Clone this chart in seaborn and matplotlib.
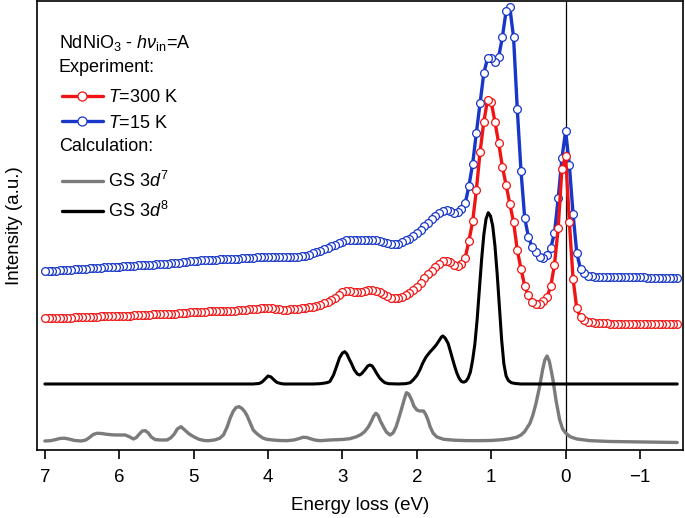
import numpy as np
import pandas as pd
import matplotlib
matplotlib.use('Agg')
import matplotlib.pyplot as plt
from matplotlib.lines import Line2D
import seaborn as sns

# ---------------- data ----------------
# experimental RIXS spectra, energy loss grid (eV)
energy_exp = [
    7.00, 6.95, 6.90, 6.85, 6.80, 6.75, 6.70, 6.65, 6.60, 6.55,
    6.50, 6.45, 6.40, 6.35, 6.30, 6.25, 6.20, 6.15, 6.10, 6.05,
    6.00, 5.95, 5.90, 5.85, 5.80, 5.75, 5.70, 5.65, 5.60, 5.55,
    5.50, 5.45, 5.40, 5.35, 5.30, 5.25, 5.20, 5.15, 5.10, 5.05,
    5.00, 4.95, 4.90, 4.85, 4.80, 4.75, 4.70, 4.65, 4.60, 4.55,
    4.50, 4.45, 4.40, 4.35, 4.30, 4.25, 4.20, 4.15, 4.10, 4.05,
    4.00, 3.95, 3.90, 3.85, 3.80, 3.75, 3.70, 3.65, 3.60, 3.55,
    3.50, 3.45, 3.40, 3.35, 3.30, 3.25, 3.20, 3.15, 3.10, 3.05,
    3.00, 2.95, 2.90, 2.85, 2.80, 2.75, 2.70, 2.65, 2.60, 2.55,
    2.50, 2.45, 2.40, 2.35, 2.30, 2.25, 2.20, 2.15, 2.10, 2.05,
    2.00, 1.95, 1.90, 1.85, 1.80, 1.75, 1.70, 1.65, 1.60, 1.55,
    1.50, 1.45, 1.40, 1.35, 1.30, 1.25, 1.20, 1.15, 1.10, 1.05,
    1.00, 0.95, 0.90, 0.85, 0.80, 0.75, 0.70, 0.65, 0.60, 0.55,
    0.50, 0.45, 0.40, 0.35, 0.30, 0.25, 0.20, 0.15, 0.10, 0.05,
    0.00, -0.05, -0.10, -0.15, -0.20, -0.25, -0.30, -0.35, -0.40, -0.45,
    -0.50, -0.55, -0.60, -0.65, -0.70, -0.75, -0.80, -0.85, -0.90, -0.95,
    -1.00, -1.05, -1.10, -1.15, -1.20, -1.25, -1.30, -1.35, -1.40, -1.45,
    -1.50]

# T = 15 K (offset spectrum)
int_15K = [
    178.5, 178.7, 179.0, 179.2, 179.5, 179.7, 180.0, 180.2, 180.5, 180.7,
    181.0, 181.2, 181.5, 181.7, 182.0, 182.2, 182.5, 182.7, 183.0, 183.2,
    183.3, 183.5, 183.8, 184.0, 184.3, 184.5, 184.7, 185.0, 185.2, 185.4,
    185.6, 185.8, 186.0, 186.3, 186.6, 187.0, 187.4, 187.8, 188.2, 188.6,
    189.0, 189.3, 189.5, 189.7, 190.0, 190.2, 190.4, 190.6, 190.8, 190.9,
    191.0, 191.2, 191.4, 191.6, 191.8, 192.0, 192.2, 192.5, 192.7, 192.9,
    193.0, 193.0, 192.8, 192.6, 192.6, 192.7, 192.9, 193.1, 193.3, 193.5,
    194.0, 195.0, 196.5, 198.0, 199.0, 200.5, 202.0, 203.5, 205.0, 206.5,
    208.0, 209.5, 210.0, 209.8, 209.5, 209.5, 209.8, 210.0, 210.0, 209.5,
    208.5, 207.5, 206.5, 206.0, 206.0, 206.3, 207.5, 209.5, 211.0, 213.5,
    216.5, 220.0, 223.5, 227.0, 230.5, 234.0, 237.0, 239.0, 239.5, 238.5,
    237.0, 238.0, 240.5, 246.5, 264.0, 286.0, 317.0, 347.0, 376.7, 391.5,
    392.0, 388.0, 393.0, 413.0, 439.0, 442.7, 412.7, 341.0, 279.0, 232.0,
    213.0, 203.0, 197.5, 193.0, 192.2, 194.5, 202.0, 217.0, 251.7, 291.7,
    319.0, 285.0, 236.0, 197.0, 181.0, 176.5, 174.0, 173.5, 173.0, 173.0,
    173.0, 172.9, 172.8, 172.8, 172.7, 172.7, 172.6, 172.6, 172.6, 172.5,
    172.5, 172.5, 172.4, 172.4, 172.4, 172.3, 172.3, 172.3, 172.3, 172.3,
    172.3]

# T = 300 K (offset spectrum)
int_300K = [
    131.5, 131.6, 131.7, 131.8, 131.9, 132.0, 132.2, 132.4, 132.6, 132.8,
    133.0, 133.1, 133.2, 133.3, 133.4, 133.5, 133.6, 133.7, 133.8, 133.9,
    134.0, 134.1, 134.2, 134.4, 134.6, 134.8, 135.0, 135.2, 135.4, 135.5,
    135.6, 135.7, 135.8, 135.9, 136.0, 136.3, 136.6, 136.9, 137.2, 137.5,
    137.8, 138.1, 138.3, 138.4, 138.5, 138.6, 138.7, 138.8, 138.9, 139.0,
    139.2, 139.4, 139.7, 140.0, 140.3, 140.6, 140.9, 141.2, 141.6, 141.8,
    141.8, 141.5, 141.0, 140.5, 140.2, 140.3, 140.6, 141.0, 141.3, 141.6,
    142.0, 142.5, 143.0, 144.0, 144.8, 146.5, 148.0, 150.0, 152.0, 155.0,
    157.5, 158.5, 159.0, 158.0, 157.5, 158.0, 159.0, 160.0, 160.0, 159.0,
    157.5, 155.5, 153.5, 152.0, 151.5, 152.0, 153.0, 155.0, 157.0, 160.0,
    163.0, 167.0, 171.5, 175.5, 179.0, 182.5, 186.0, 188.5, 189.3, 188.0,
    184.5, 183.5, 186.0, 192.3, 209.0, 228.5, 260.0, 298.0, 328.0, 350.0,
    348.0, 328.0, 307.0, 283.0, 265.0, 246.0, 228.0, 200.0, 181.0, 164.0,
    154.5, 147.5, 145.5, 145.5, 148.5, 153.0, 164.0, 185.0, 222.0, 280.7,
    294.0, 228.0, 171.0, 141.5, 132.5, 129.7, 128.3, 127.5, 127.0, 126.8,
    126.6, 126.5, 126.4, 126.3, 126.2, 126.1, 126.0, 126.0, 125.9, 125.9,
    125.8, 125.8, 125.7, 125.7, 125.6, 125.6, 125.5, 125.5, 125.5, 125.5,
    125.5]

# calculation, ground state 3d8
energy_d8 = [
    7.00, 4.20, 4.12, 4.08, 4.04, 4.00, 3.96, 3.92, 3.88, 3.82,
    3.78, 3.40, 3.30, 3.25, 3.21, 3.17, 3.12, 3.08, 3.04, 3.00,
    2.97, 2.94, 2.91, 2.88, 2.84, 2.80, 2.77, 2.74, 2.70, 2.66,
    2.63, 2.60, 2.57, 2.54, 2.50, 2.46, 2.43, 2.38, 2.25, 2.15,
    2.09, 2.05, 2.00, 1.96, 1.92, 1.88, 1.85, 1.82, 1.78, 1.74,
    1.70, 1.67, 1.65, 1.62, 1.58, 1.55, 1.52, 1.49, 1.46, 1.43,
    1.40, 1.37, 1.34, 1.31, 1.28, 1.25, 1.22, 1.19, 1.16, 1.13,
    1.10, 1.07, 1.04, 1.01, 0.98, 0.95, 0.92, 0.89, 0.86, 0.83,
    0.80, 0.77, 0.73, 0.68, 0.60, -1.50]
int_d8 = [
    66, 66, 66.5, 68, 71, 74, 73, 70, 67.5, 66.3,
    66, 66, 66.3, 66.8, 67.3, 68.3, 75, 83.3, 92, 97,
    98.3, 96, 91, 86.7, 80, 76, 75, 76.5, 80, 84,
    85, 84, 80.5, 76.7, 72, 69, 67.3, 66.3, 66, 66.3,
    67.3, 70, 74.5, 80, 87, 92.5, 95.5, 98.3, 101.5, 105,
    109.5, 113, 114, 112, 106.7, 99, 91, 83.3, 76.5, 71.5,
    68.5, 67.8, 68.8, 72, 78, 90, 106, 130, 160, 190,
    215, 231, 237.3, 234, 224, 204, 176, 143, 110, 86,
    74, 69.5, 67.3, 66.5, 66, 66]

# calculation, ground state 3d7
energy_d7 = [
    7.00, 6.92, 6.85, 6.80, 6.74, 6.68, 6.60, 6.51, 6.45, 6.40,
    6.35, 6.30, 6.24, 6.17, 6.10, 6.05, 5.99, 5.92, 5.87, 5.81,
    5.77, 5.73, 5.69, 5.65, 5.61, 5.57, 5.52, 5.46, 5.36, 5.31,
    5.26, 5.22, 5.17, 5.12, 5.06, 5.00, 4.93, 4.86, 4.80, 4.72,
    4.65, 4.60, 4.55, 4.51, 4.47, 4.43, 4.39, 4.35, 4.31, 4.28,
    4.24, 4.20, 4.16, 4.12, 4.07, 4.02, 3.94, 3.85, 3.75, 3.65,
    3.58, 3.53, 3.48, 3.42, 3.36, 3.30, 3.17, 3.10, 3.00, 2.90,
    2.81, 2.75, 2.70, 2.65, 2.61, 2.58, 2.55, 2.52, 2.49, 2.45,
    2.41, 2.36, 2.32, 2.28, 2.25, 2.21, 2.17, 2.14, 2.11, 2.07,
    2.04, 2.00, 1.96, 1.91, 1.88, 1.85, 1.82, 1.78, 1.73, 1.64,
    1.50, 1.35, 1.20, 1.00, 0.85, 0.75, 0.66, 0.60, 0.55, 0.48,
    0.44, 0.40, 0.35, 0.31, 0.28, 0.25, 0.22, 0.19, 0.17, 0.13,
    0.10, 0.08, 0.04, 0.00, -0.06, -0.15, -0.33, -0.60, -1.00, -1.50]
int_d7 = [
    9, 9.3, 10.5, 11.5, 11.8, 11, 9.5, 9, 10, 12.5,
    15.5, 16.7, 16.5, 15.7, 15.2, 15, 15, 15, 13.5, 11,
    12.5, 16, 19, 19.3, 17, 13, 10.5, 10, 10, 12,
    16, 21, 23.3, 20, 16, 13.3, 10.7, 9.5, 9.3, 10,
    11.7, 15, 23, 31.7, 38.5, 42.5, 43.3, 41.5, 38, 34,
    27, 20, 17, 14.5, 12, 10.7, 10, 9.5, 9.3, 10,
    11.5, 12.7, 12.5, 11, 9.8, 9.3, 10, 10.2, 10.5, 11.3,
    13.3, 15.5, 18.5, 23.3, 29, 34, 36.7, 34.5, 29, 23.3,
    18, 15, 17, 23, 30, 40, 50.5, 57.3, 56, 50,
    44, 40, 39, 39, 35.5, 30, 23, 16.7, 13, 10.7,
    9.8, 9.4, 9.3, 9.5, 10.3, 11.3, 12.7, 15, 18.5, 26.7,
    35, 46, 63.3, 80, 90, 94, 89, 78, 70, 50,
    38, 30, 21, 17, 13.3, 11, 9.3, 8.5, 8, 7.5]

xticks = [7, 6, 5, 4, 3, 2, 1, 0, -1]

RED = '#f01414'
BLUE = '#1836c8'
GRAY = '#7b7b7b'

df_exp = pd.DataFrame({'energy': energy_exp, 'T15': int_15K, 'T300': int_300K})
df_d8 = pd.DataFrame({'energy': energy_d8, 'I': int_d8})
df_d7 = pd.DataFrame({'energy': energy_d7, 'I': int_d7})

# ---------------- style ----------------
sns.set_theme(style='ticks')
plt.rcParams['font.family'] = ['Liberation Sans', 'DejaVu Sans']
plt.rcParams['mathtext.fontset'] = 'custom'
plt.rcParams['mathtext.rm'] = 'Liberation Sans'
plt.rcParams['mathtext.it'] = 'Liberation Sans:italic'
plt.rcParams['mathtext.bf'] = 'Liberation Sans:bold'
plt.rcParams['font.size'] = 13
plt.rcParams['text.color'] = 'black'
plt.rcParams['axes.labelcolor'] = 'black'
plt.rcParams['xtick.color'] = 'black'
plt.rcParams['xtick.labelcolor'] = 'black'

fig = plt.figure(figsize=(6.85, 5.18), dpi=100)
ax = fig.add_axes([0.054, 0.1313, 0.943, 0.8668])

ax.axvline(0, color='black', lw=0.9, zorder=1)

# calculations
sns.lineplot(data=df_d7, x='energy', y='I', ax=ax, color=GRAY, lw=2.4, zorder=2)
sns.lineplot(data=df_d8, x='energy', y='I', ax=ax, color='black', lw=2.2, zorder=3)

# experiment
exp_kw = dict(marker='o', markersize=5.6, markerfacecolor='white',
              markeredgewidth=0.9, lw=2.4)
sns.lineplot(data=df_exp, x='energy', y='T15', ax=ax, color=BLUE,
             markeredgecolor=BLUE, zorder=4, **exp_kw)
sns.lineplot(data=df_exp, x='energy', y='T300', ax=ax, color=RED,
             markeredgecolor=RED, zorder=5, **exp_kw)

ax.set_xlim(7.106, -1.577)
ax.set_ylim(0, 449)
ax.set_xticks(xticks)
ax.set_yticks([])
ax.tick_params(axis='x', direction='out', length=6.5, width=1.2, pad=7,
               labelsize=13.5, color='black', labelcolor='black')
for sp in ax.spines.values():
    sp.set_visible(True)
    sp.set_color('black')
    sp.set_linewidth(1.2)

ax.set_xlabel('Energy loss (eV)', fontsize=13.5, labelpad=8, color='black')
ax.set_ylabel('Intensity (a.u.)', fontsize=13.5, labelpad=10, color='black')

# ---------------- legend ----------------
ax.text(0.034, 0.906, r'NdNiO$_3$ - $h\nu_{\rm in}$=A', transform=ax.transAxes,
        fontsize=13, va='center', ha='left', color='black')
ax.text(0.034, 0.851, 'Experiment:', transform=ax.transAxes,
        fontsize=13, va='center', ha='left', color='black')
ax.text(0.034, 0.675, 'Calculation:', transform=ax.transAxes,
        fontsize=13, va='center', ha='left', color='black')

h_exp = [Line2D([], [], color=RED, lw=2.4, marker='o', markersize=6.5,
                markerfacecolor='white', markeredgecolor=RED, markeredgewidth=0.9),
         Line2D([], [], color=BLUE, lw=2.4, marker='o', markersize=6.5,
                markerfacecolor='white', markeredgecolor=BLUE, markeredgewidth=0.9)]
leg1 = ax.legend(h_exp, [r'$T$=300 K', r'$T$=15 K'], loc='center left',
                 bbox_to_anchor=(0.0387, 0.756), frameon=False, fontsize=13,
                 borderpad=0, borderaxespad=0, handlelength=2.25,
                 handletextpad=0.3, labelspacing=0.47, numpoints=1,
                 labelcolor='black')
ax.add_artist(leg1)

h_calc = [Line2D([], [], color=GRAY, lw=2.4), Line2D([], [], color='black', lw=2.4)]
ax.legend(h_calc, [r'GS 3$d^7$', r'GS 3$d^8$'], loc='center left',
          bbox_to_anchor=(0.0387, 0.566), frameon=False, fontsize=13,
          borderpad=0, borderaxespad=0, handlelength=2.25,
          handletextpad=0.3, labelspacing=0.55, labelcolor='black')

fig.savefig('out.png', dpi=100)
